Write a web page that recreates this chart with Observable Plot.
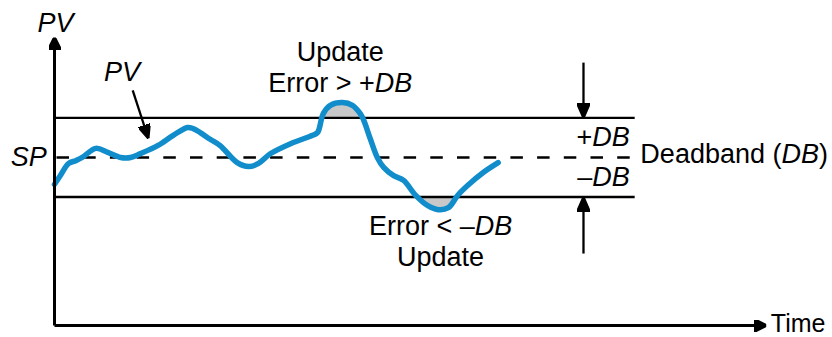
<!DOCTYPE html>
<html>
<head>
<meta charset="utf-8">
<script src="https://cdn.jsdelivr.net/npm/d3@7"></script>
<script src="https://cdn.jsdelivr.net/npm/@observablehq/plot@0.6"></script>
<style>
  html, body { margin: 0; padding: 0; background: #fff; }
  #chart svg { display: block; }
</style>
</head>
<body>
<div id="chart"></div>
<script>
// ---- data (time in arbitrary units, PV in % of span) ----
const time = [0, 0.8, 2.0, 3.0, 3.9, 5.8, 7.5, 9.3, 10.7, 12.1, 14.5, 16.7, 18.7, 19.5, 20.5, 21.9, 23.3,
  25.7, 27.3, 28.7, 30.4, 33.2, 36.3, 37.0, 37.8, 38.8, 40.5, 41.9, 43.0, 43.5, 44.4, 45.4, 46.3,
  47.7, 49.1, 50.8, 52.5, 54.0, 55.4, 56.7, 58.1, 60.3, 62.4];
const pv = [43.2, 45.4, 48.5, 49.2, 50.0, 52.3, 51.3, 50.0, 50.0, 51.0, 53.0, 55.6, 57.6, 57.3, 56.3, 54.6, 53.0,
  48.7, 47.7, 48.5, 51.0, 53.5, 55.6, 56.3, 61.1, 63.2, 63.9, 63.2, 61.1, 59.4, 54.8, 50.0, 47.5,
  45.4, 44.2, 40.4, 37.8, 36.8, 37.3, 40.4, 42.9, 46.2, 48.7];
const SP = 50;           // set point
const DB = 10;           // deadband
const bandEnd = 81.6;    // time where the band lines end
const axisExtent = {t: [0, 100.1], v: [7.5, 80.35]};
const markerT = 74.4;    // time of the deadband arrows

// annotations (data units); _x_ marks italic text
const labelsMiddle = [
  {t: 0.15, v: 83.9, text: "_PV_"},
  {t: 9.5, v: 71.6, text: "_PV_"},
  {t: 40.2, v: 76.6, text: "Update"},
  {t: 40.2, v: 68.8, text: "Error > +_DB_"},
  {t: 54.3, v: 32.5, text: "Error < \u2013_DB_"},
  {t: 54.3, v: 24.7, text: "Update"}
];
const labelsEnd = [
  {t: -1.1, v: 50, text: "_SP_"},
  {t: 80.9, v: 55.2, text: "+_DB_"},
  {t: 80.9, v: 45.1, text: "\u2013_DB_"}
];
const labelsStart = [
  {t: 82.4, v: 50.8, text: "Deadband (_DB_)"}
];
const axisLabel = [{t: 100.75, v: 7.9, text: "Time"}];
const pvArrow = [{t1: 11.0, v1: 67.0, t2: 13.2, v2: 54.8}];

// ---- derived ----
const pts = time.map((t, i) => ({t, v: pv[i]}));
function excursions(limit, above) {
  const segs = [];
  let cur = null;
  for (let i = 0; i < pts.length; i++) {
    const p = pts[i];
    const out = above ? p.v > limit : p.v < limit;
    if (out && !cur) {
      const q = pts[i - 1];
      const f = (limit - q.v) / (p.v - q.v);
      cur = [{t: q.t + f * (p.t - q.t), v: limit}];
    }
    if (out) cur.push({t: p.t, v: p.v});
    if (!out && cur) {
      const q = pts[i - 1];
      const f = (limit - q.v) / (p.v - q.v);
      cur.push({t: q.t + f * (p.t - q.t), v: limit});
      segs.push(cur); cur = null;
    }
  }
  return segs;
}
const fills = [...excursions(SP + DB, true), ...excursions(SP - DB, false)]
  .flatMap((s, k) => s.map(p => ({...p, k, base: p.v >= SP ? SP + DB : SP - DB})));

function head(len, wid) {
  return (color, context) => {
    const doc = (context && context.document) || document;
    const ns = "http://www.w3.org/2000/svg";
    const m = doc.createElementNS(ns, "marker");
    m.setAttribute("viewBox", `${-len} ${-wid / 2} ${len} ${wid}`);
    m.setAttribute("markerWidth", len);
    m.setAttribute("markerHeight", wid);
    m.setAttribute("markerUnits", "userSpaceOnUse");
    m.setAttribute("refX", 0);
    m.setAttribute("refY", 0);
    m.setAttribute("orient", "auto");
    const p = doc.createElementNS(ns, "path");
    p.setAttribute("d", `M${-len},${-wid / 2}L0,0L${-len},${wid / 2}Z`);
    p.setAttribute("fill", color);
    m.appendChild(p);
    return m;
  };
}

const bandLines = [SP + DB, SP - DB].map(v => ({t1: 0, t2: bandEnd, v}));
const axes = [
  {t1: 0, v1: axisExtent.v[0], t2: 0, v2: axisExtent.v[1]},
  {t1: 0, v1: axisExtent.v[0], t2: axisExtent.t[1], v2: axisExtent.v[0]}
];
const dbArrows = [
  {t1: markerT, v1: 74.0, t2: markerT, v2: SP + DB},
  {t1: markerT, v1: 25.7, t2: markerT, v2: SP - DB}
];

const textStyle = {fontSize: 27, fill: "#000", lineAnchor: "middle"};

const chart = Plot.plot({
  width: 832,
  height: 337,
  marginLeft: 54,
  marginRight: 67,
  marginTop: 38,
  marginBottom: 12,
  x: {domain: [0, 100], axis: null},
  y: {domain: [7.5, 80.1], axis: null},
  style: {fontFamily: "'Liberation Sans', Arial, sans-serif", background: "#fff", overflow: "visible"},
  marks: [
    Plot.areaY(fills, {x: "t", y1: "base", y2: "v", z: "k", fill: "#c8c8c8", curve: "catmull-rom"}),
    Plot.link(bandLines, {x1: "t1", x2: "t2", y1: "v", y2: "v", stroke: "#000", strokeWidth: 2.3}),
    Plot.link([{t1: 0, t2: bandEnd, v: SP}], {x1: "t1", x2: "t2", y1: "v", y2: "v", stroke: "#000", strokeWidth: 2.5, strokeDasharray: "12.5,14.2", strokeDashoffset: -2}),
    Plot.line(pts, {x: "t", y: "v", stroke: "#118dcc", strokeWidth: 5.5, curve: "catmull-rom", strokeLinecap: "round", strokeLinejoin: "round"}),
    Plot.link(axes, {x1: "t1", y1: "v1", x2: "t2", y2: "v2", stroke: "#000", strokeWidth: 3, markerEnd: head(12, 12)}),
    Plot.link(dbArrows, {x1: "t1", y1: "v1", x2: "t2", y2: "v2", stroke: "#000", strokeWidth: 2.3, markerEnd: head(15, 13)}),
    Plot.link(pvArrow, {x1: "t1", y1: "v1", x2: "t2", y2: "v2", stroke: "#000", strokeWidth: 2.3, markerEnd: head(14, 12)}),
    Plot.text(labelsMiddle, {x: "t", y: "v", text: "text", textAnchor: "middle", ...textStyle}),
    Plot.text(labelsEnd, {x: "t", y: "v", text: "text", textAnchor: "end", ...textStyle}),
    Plot.text(labelsStart, {x: "t", y: "v", text: "text", textAnchor: "start", ...textStyle}),
    Plot.text(axisLabel, {x: "t", y: "v", text: "text", textAnchor: "start", ...textStyle, fontSize: 25})
  ]
});

// turn _..._ segments into italic tspans
d3.select(chart).selectAll("text").each(function () {
  if (this.childElementCount > 0) return;
  const s = this.textContent;
  if (!s.includes("_")) return;
  this.textContent = "";
  s.split("_").forEach((part, i) => {
    if (!part) return;
    const ts = document.createElementNS("http://www.w3.org/2000/svg", "tspan");
    ts.textContent = part;
    if (i % 2 === 1) ts.setAttribute("font-style", "italic");
    this.appendChild(ts);
  });
});

document.getElementById("chart").appendChild(chart);
</script>
</body>
</html>
